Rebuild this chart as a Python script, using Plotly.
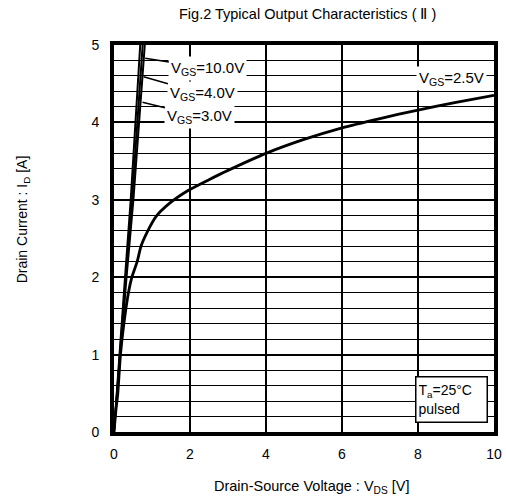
import plotly.graph_objects as go

# ---- data ----
vgs10_x = [0, 0.14, 0.29, 0.44, 0.56, 0.68, 0.74]
vgs10_y = [0, 1, 2, 3, 4, 5, 5.4]
vgs4_x = [0, 0.15, 0.31, 0.475, 0.61, 0.745, 0.81]
vgs4_y = [0, 1, 2, 3, 4, 5, 5.4]
vgs3_x = [0, 0.16, 0.33, 0.51, 0.66, 0.81, 0.87]
vgs3_y = [0, 1, 2, 3, 4, 5, 5.4]
vgs25_x = [0, 0.05, 0.1, 0.17, 0.26, 0.38, 0.47, 0.61, 0.71, 0.87, 1.1, 1.45,
           1.95, 2.5, 3.0, 4.0, 5.0, 6.0, 7.0, 8.0, 9.0, 10.0]
vgs25_y = [0, 0.28, 0.5, 1.0, 1.4, 1.8, 2.0, 2.2, 2.4, 2.58, 2.78, 2.95,
           3.12, 3.26, 3.38, 3.6, 3.78, 3.93, 4.05, 4.16, 4.26, 4.35]

x_ticks = [0, 2, 4, 6, 8, 10]
y_ticks = [0, 1, 2, 3, 4, 5]

FONT = "Liberation Sans, Arial, sans-serif"

fig = go.Figure()
for xs, ys in [(vgs10_x, vgs10_y), (vgs4_x, vgs4_y), (vgs3_x, vgs3_y)]:
    fig.add_trace(go.Scatter(x=xs, y=ys, mode="lines",
                             line=dict(color="black", width=2),
                             showlegend=False, hoverinfo="skip"))
fig.add_trace(go.Scatter(x=vgs25_x, y=vgs25_y, mode="lines",
                         line=dict(color="black", width=2.8, shape="spline", smoothing=0.6),
                         showlegend=False, hoverinfo="skip"))

labels = [
    ("V<sub>GS</sub>=10.0V", 2.47, 4.70, 0.82, 4.83),
    ("V<sub>GS</sub>=4.0V", 2.34, 4.37, 0.78, 4.59),
    ("V<sub>GS</sub>=3.0V", 2.26, 4.08, 0.75, 4.26),
]
for txt, lx, ly, px, py in labels:
    fig.add_annotation(x=px, y=py, ax=lx, ay=ly, axref="x", ayref="y",
                       xref="x", yref="y", text=txt, showarrow=True,
                       arrowhead=0, arrowwidth=1.5, arrowcolor="black",
                       bgcolor="white", borderpad=2,
                       font=dict(family=FONT, size=15, color="black"))

fig.add_annotation(x=8.89, y=4.57, xref="x", yref="y", text="V<sub>GS</sub>=2.5V",
                   showarrow=False, bgcolor="white", borderpad=2,
                   font=dict(family=FONT, size=15, color="black"))

fig.add_annotation(x=8.87, y=0.42, xref="x", yref="y",
                   text="T<sub>a</sub>=25°C<br>pulsed", showarrow=False,
                   align="left", width=66, height=40, borderpad=2,
                   bgcolor="white", bordercolor="black", borderwidth=1.5,
                   font=dict(family=FONT, size=14, color="black"))

# title and axis titles placed as text in paper coordinates
fig.add_annotation(x=0.508, y=1.08, xref="paper", yref="paper",
                   text="Fig.2 Typical Output Characteristics ( Ⅱ )", showarrow=False,
                   xanchor="center", yanchor="middle",
                   font=dict(family=FONT, size=14.5, color="black"))
fig.add_annotation(x=0.52, y=-0.142, xref="paper", yref="paper",
                   text="Drain-Source Voltage : V<sub>DS</sub> [V]", showarrow=False,
                   xanchor="center", yanchor="middle",
                   font=dict(family=FONT, size=14.5, color="black"))
fig.add_annotation(x=-0.239, y=0.55, xref="paper", yref="paper",
                   text="Drain Current : I<sub>D</sub> [A]", showarrow=False,
                   textangle=-90, xanchor="center", yanchor="middle",
                   font=dict(family=FONT, size=14, color="black"))

fig.update_layout(
    width=506, height=502,
    margin=dict(l=114, r=12, t=45, b=70),
    paper_bgcolor="white", plot_bgcolor="white",
    font=dict(family=FONT, size=14, color="black"),
    xaxis=dict(range=[0, 10], tickvals=x_ticks, ticks="", showgrid=True,
               gridcolor="black", gridwidth=2, zeroline=False, automargin=False,
               showline=True, linecolor="black", linewidth=4, mirror=True,
               ticklabelstandoff=6, tickfont=dict(size=14)),
    yaxis=dict(range=[0, 5], tickvals=y_ticks, ticks="", showgrid=True,
               gridcolor="black", gridwidth=2, zeroline=False, automargin=False,
               showline=True, linecolor="black", linewidth=4, mirror=True,
               ticklabelstandoff=8, tickfont=dict(size=14),
               minor=dict(dtick=0.2, showgrid=True, gridcolor="black", gridwidth=1, ticks="")),
)

fig.write_html("out.html")
